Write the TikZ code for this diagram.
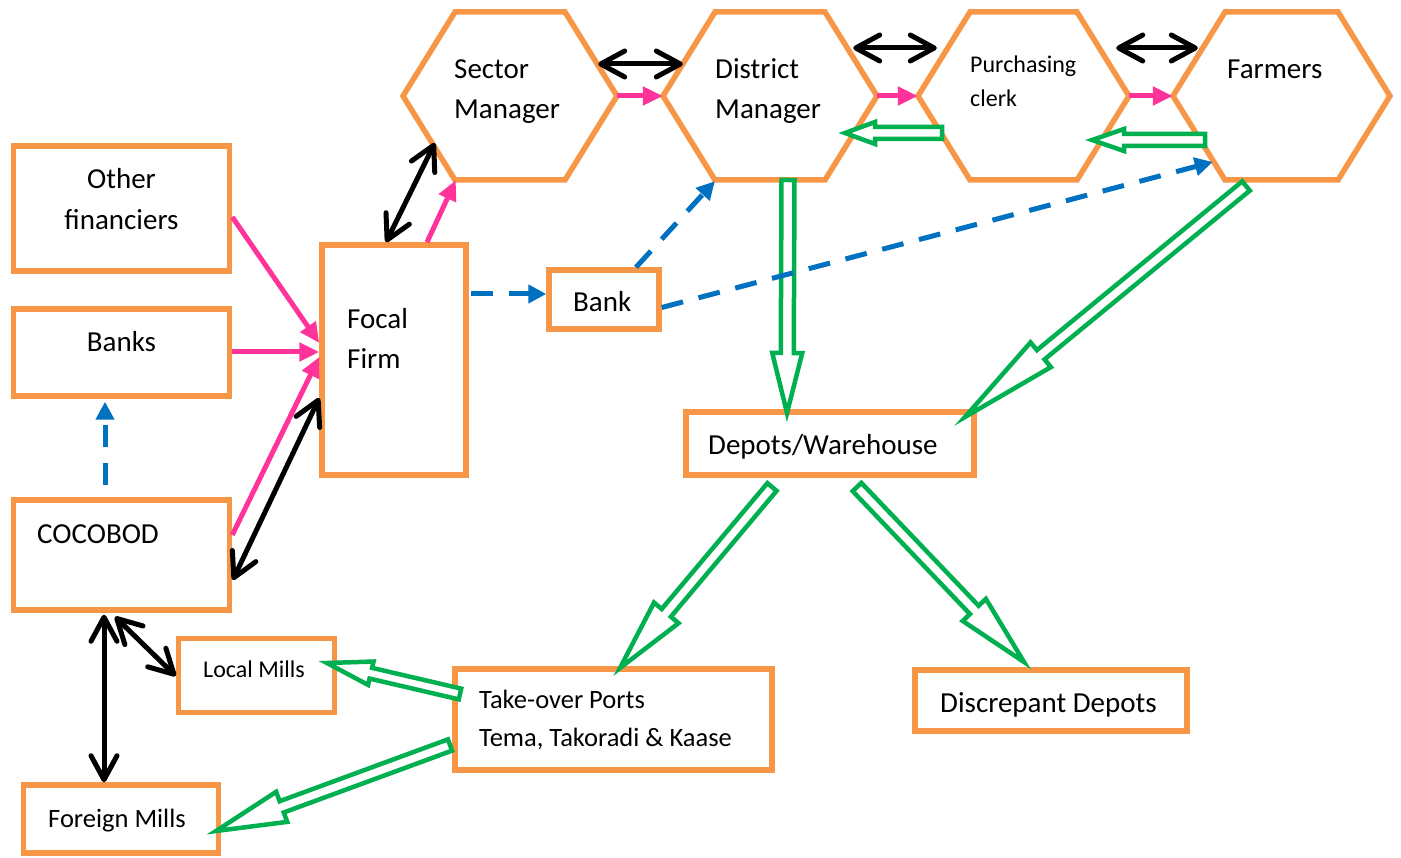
\documentclass[tikz,border=0pt]{standalone}
\usepackage{fontspec}
\setmainfont{Carlito}
\usetikzlibrary{arrows.meta,calc}
\definecolor{orangeC}{HTML}{F79646}
\definecolor{pinkC}{HTML}{FF3399}
\definecolor{blueC}{HTML}{0070C0}
\definecolor{greenC}{HTML}{00B050}
% hollow block arrow: x1 y1 x2 y2 shaft-halfwidth head-halfwidth head-length
\newcommand\harrow[7]{%
  \pgfmathsetmacro\hdx{#3-#1}\pgfmathsetmacro\hdy{#4-#2}%
  \pgfmathsetmacro\hL{veclen(\hdx,\hdy)}%
  \pgfmathsetmacro\hux{\hdx/\hL}\pgfmathsetmacro\huy{\hdy/\hL}%
  \pgfmathsetmacro\hnx{-\huy}\pgfmathsetmacro\hny{\hux}%
  \pgfmathsetmacro\hb{\hL-#7}%
  \draw[hollowarr]
    ({#1+\hnx*#5},{#2+\hny*#5}) --
    ({#1+\hux*\hb+\hnx*#5},{#2+\huy*\hb+\hny*#5}) --
    ({#1+\hux*\hb+\hnx*#6},{#2+\huy*\hb+\hny*#6}) --
    (#3,#4) --
    ({#1+\hux*\hb-\hnx*#6},{#2+\huy*\hb-\hny*#6}) --
    ({#1+\hux*\hb-\hnx*#5},{#2+\huy*\hb-\hny*#5}) --
    ({#1-\hnx*#5},{#2-\hny*#5}) -- cycle;}
% hexagon: name, left x, right x
\newcommand\hexa[3]{%
  \draw[hexline] (#2,96) -- (#2+52,12) -- (#3-52,12) -- (#3,96) -- (#3-52,180) -- (#2+52,180) -- cycle;
  \node[inner sep=0pt, minimum width=#3-#2, minimum height=168] (#1) at ({(#2+#3)/2},96) {};}
\begin{document}
\begin{tikzpicture}[x=1pt,y=-1pt,
  box/.style={draw=orangeC, line width=5.5pt, inner sep=0pt},
  hexline/.style={draw=orangeC, line width=5.5pt, line join=miter},
  txt/.style={anchor=base west, inner sep=0pt, font=\fontsize{29}{35}\selectfont},
  ctxt/.style={anchor=base, inner sep=0pt, font=\fontsize{29}{35}\selectfont},
  stxt/.style={anchor=base west, inner sep=0pt, font=\fontsize{24}{30}\selectfont},
  mtxt/.style={anchor=base west, inner sep=0pt, font=\fontsize{26.5}{32}\selectfont},
  pinkarr/.style={draw=pinkC, line width=5pt, -{Triangle[length=20pt,width=18pt]}},
  blk/.style={draw=black, line width=5pt, {Straight Barb[length=24pt,width=26pt,round]}-{Straight Barb[length=24pt,width=26pt,round]}},
  bluearr/.style={draw=blueC, line width=5pt, dash pattern=on 22pt off 16pt, -{Triangle[length=18pt,width=18pt]}},
  hollowarr/.style={draw=greenC, line width=4.5pt, fill=white, line join=miter}]
\useasboundingbox (0,0) rectangle (1401,858);
\fill[white] (0,0) rectangle (1401,858);

% hexagons
\hexa{sector}{403}{617}
\hexa{district}{663}{877}
\hexa{purch}{918}{1129}
\hexa{farmers}{1173}{1390}

% boxes
\node[box, minimum width=216, minimum height=125] (other) at (121.5,208.5) {};
\node[box, minimum width=216, minimum height=87] (banks) at (121.5,352.5) {};
\node[box, minimum width=216, minimum height=110] (cocobod) at (121.5,555) {};
\node[box, minimum width=144, minimum height=230] (focal) at (394,360) {};
\node[box, minimum width=110, minimum height=59] (bank) at (604,299.5) {};
\node[box, minimum width=288, minimum height=63] (depots) at (830,443.5) {};
\node[box, minimum width=156, minimum height=74] (local) at (256.5,675.5) {};
\node[box, minimum width=317, minimum height=101] (takeover) at (613.5,719.5) {};
\node[box, minimum width=272, minimum height=61] (discr) at (1051,700.5) {};
\node[box, minimum width=195, minimum height=68] (foreign) at (121,819) {};

% texts
\node[txt] at (454,79) {Sector};
\node[txt] at (454,119) {Manager};
\node[txt] at (715,79) {District};
\node[txt] at (715,119) {Manager};
\node[stxt] at (970,72.5) {Purchasing};
\node[stxt] at (970,106.5) {clerk};
\node[txt] at (1227,79) {Farmers};
\node[ctxt] at (121.5,188.5) {Other};
\node[ctxt] at (121.5,229.5) {financiers};
\node[ctxt] at (121.5,352) {Banks};
\node[txt] at (37,543) {COCOBOD};
\node[txt] at (347,328.5) {Focal};
\node[txt] at (347,368.5) {Firm};
\node[txt] at (573,312) {Bank};
\node[txt] at (708,454.5) {Depots/Warehouse};
\node[stxt] at (203,677) {Local Mills};
\node[mtxt] at (479,708) {Take-over Ports};
\node[mtxt] at (479,746) {Tema, Takoradi \& Kaase};
\node[txt] at (940,712.5) {Discrepant Depots};
\node[mtxt] at (48,827) {Foreign Mills};

% green hollow arrows
\harrow{942}{133}{845}{133}{6}{11}{30}
\harrow{1205}{140}{1092}{140}{6}{11}{32}
\harrow{788}{180}{787}{413}{6.5}{15}{60}
\harrow{1246}{186}{965}{417}{6}{16}{98}
\harrow{772}{487}{620}{668}{6}{16}{72}
\harrow{857}{487}{1024}{662}{6}{16}{72}
\harrow{460}{694}{327}{663}{5.5}{12}{45}
\harrow{450}{745}{216}{831}{6}{16}{70}

% pink arrows
\draw[pinkarr] ($(other.east)+(0,8.5)$) -- ($(focal.west)+(0,-17)$);
\draw[pinkarr] ($(banks.east)+(0,-0.5)$) -- ($(focal.west)+(0,-8)$);
\draw[pinkarr] ($(cocobod.east)+(0,-20)$) -- ($(focal.west)+(0,-3)$);
\draw[pinkarr] ($(focal.north)+(33,0)$) -- ($(sector.south west)+(53,0)$);
\draw[pinkarr] (sector.east) -- (district.west);
\draw[pinkarr] (district.east) -- (purch.west);
\draw[pinkarr] (purch.east) -- (farmers.west);

% black double arrows
\draw[blk] ($(sector.east)+(-19,-32)$) -- ($(district.west)+(20,-32)$);
\draw[blk] ($(district.east)+(-24,-48)$) -- ($(purch.west)+(19,-48)$);
\draw[blk] ($(purch.east)+(-13,-48)$) -- ($(farmers.west)+(25,-48)$);
\draw[blk] ($(focal.north)+(-8,0)$) -- ($(sector.west)+(32,47)$);
\draw[blk] ($(focal.west)+(0,38)$) -- ($(cocobod.east)+(0.5,25)$);
\draw[blk] ($(cocobod.south)+(-17.5,2)$) -- ($(foreign.north)+(-17,0)$);
\draw[blk] ($(cocobod.south)+(-6.5,4)$) -- ($(local.west)+(0,0.5)$);

% blue dashed arrows
\draw[bluearr] ($(cocobod.north)+(-16.5,-12)$) -- ($(banks.south)+(-16.5,3)$);
\draw[bluearr] ($(focal.east)+(2,-66)$) -- ($(bank.west)+(0,-5.5)$);
\draw[bluearr] ($(bank.north)+(32,0)$) -- ($(district.south west)+(52,1)$);
\draw[bluearr] ($(bank.east)+(0,8)$) -- ($(farmers.west)+(40,66)$);
\end{tikzpicture}
\end{document}
